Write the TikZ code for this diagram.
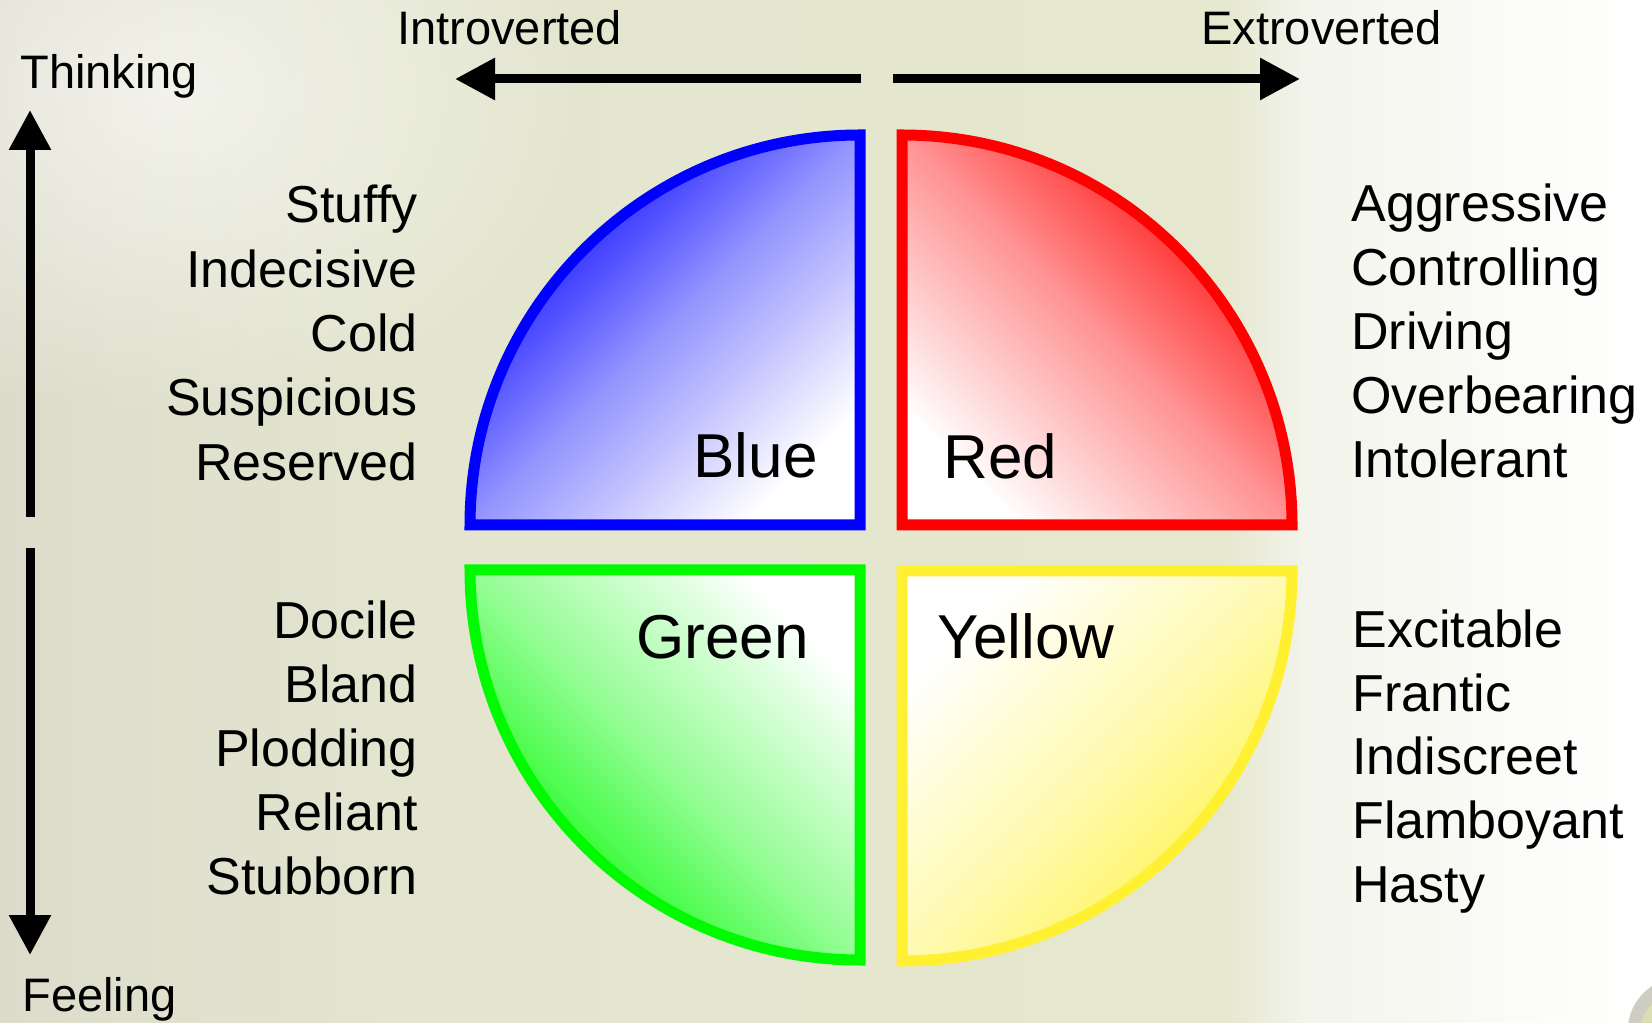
\documentclass[tikz,border=0pt]{standalone}
\usepackage{fontspec}
\setmainfont{Liberation Sans}
\usetikzlibrary{arrows.meta, fadings}

\definecolor{bgA}{RGB}{221,220,204}
\definecolor{bgB}{RGB}{227,229,207}
\definecolor{bgC}{RGB}{229,231,206}
\definecolor{bgD}{RGB}{243,244,235}
\definecolor{bgE}{RGB}{250,250,246}
\definecolor{blueline}{RGB}{0,0,255}
\definecolor{redline}{RGB}{255,0,0}
\definecolor{greenline}{RGB}{0,250,0}
\definecolor{yellowline}{RGB}{255,240,50}
\definecolor{yellowfill}{RGB}{255,243,70}
\definecolor{iconrim}{RGB}{205,205,195}
\definecolor{iconface}{RGB}{218,222,178}

\pgfdeclarehorizontalshading{bgwash}{100bp}{color(0bp)=(bgA); color(25bp)=(bgA); color(37bp)=(bgB); color(62bp)=(bgC); color(64.5bp)=(bgD); color(70bp)=(bgE); color(75bp)=(white); color(100bp)=(white)}
\tikzfading[name=softspot, inner color=transparent!0, outer color=transparent!100]

\begin{document}
\begin{tikzpicture}[
        x=0.5pt, y=0.5pt,
        quarter/.style = {line width=5.5pt, line join=miter},
        trait/.style = {inner sep=0pt, font=\fontsize{26pt}{32pt}\selectfont},
        colour/.style = {inner sep=0pt, font=\fontsize{31pt}{37pt}\selectfont},
        axislabel/.style = {inner sep=0pt, anchor=base west, font=\fontsize{23.5pt}{28pt}\selectfont},
        axis/.style = {-{Triangle[length=20pt, width=20pt]}, line width=4.5pt},
    ]
    \useasboundingbox (0,0) rectangle (1652,1022);
    \shade[shading=bgwash] (0,0) rectangle (1652,1022);
    \fill[white, opacity=0.6, path fading=softspot] (170,930) ellipse (420 and 330);
    % slide button in the corner
    \fill[iconrim] (1680,-8) circle (52);
    \fill[iconface] (1684,-12) circle (44);

    % the four quarters
    \path[quarter, draw=blueline, top color=blue, bottom color=white, middle color=blue!42, shading angle=45]
        (860,497) -- (470,497) arc[start angle=180, end angle=90, radius=390] -- cycle;
    \path[quarter, draw=redline, top color=red, bottom color=white, middle color=red!42, shading angle=-45]
        (902,497) -- (902,887) arc[start angle=90, end angle=0, radius=390] -- cycle;
    \path[quarter, draw=greenline, top color=white, bottom color=greenline, middle color=greenline!42, shading angle=-45]
        (860,452) -- (860,62) arc[start angle=270, end angle=180, radius=390] -- cycle;
    \path[quarter, draw=yellowline, top color=white, bottom color=yellowfill, middle color=yellowfill!42, shading angle=45]
        (902,451) -- (1292,451) arc[start angle=0, end angle=-90, radius=390] -- cycle;

    \node[colour, anchor=base east] (blue) at (818,544) {Blue};
    \node[colour, anchor=base west] (red) at (943,543) {Red};
    \node[colour, anchor=base east] (green) at (809,363) {Green};
    \node[colour, anchor=base west] (yellow) at (937,363) {Yellow};

    % traits
    \foreach \word [count=\i from 0] in {Stuffy, Indecisive, Cold, Suspicious, Reserved}
        \node[trait, anchor=base east] (bluetrait-\i) at (418,{799-64.3*\i}) {\word};
    \foreach \word [count=\i from 0] in {Docile, Bland, Plodding, Reliant, Stubborn}
        \node[trait, anchor=base east] (greentrait-\i) at (418,{383-63.8*\i}) {\word};
    \foreach \word [count=\i from 0] in {Aggressive, Controlling, Driving, Overbearing, Intolerant}
        \node[trait, anchor=base west] (redtrait-\i) at (1351,{800-63.8*\i}) {\word};
    \foreach \word [count=\i from 0] in {Excitable, Frantic, Indiscreet, Flamboyant, Hasty}
        \node[trait, anchor=base west] (yellowtrait-\i) at (1352,{374-63.5*\i}) {\word};

    % axes
    \node[axislabel] (thinking) at (20,933) {Thinking};
    \node[axislabel] (feeling) at (22,11) {Feeling};
    \node[axislabel] (introverted) at (397,977) {Introverted};
    \node[axislabel] (extroverted) at (1201,977) {Extroverted};
    \coordinate (hub-w) at (861,943);
    \coordinate (hub-e) at (893,943);
    \coordinate (intro-tip) at (455,943);
    \coordinate (extro-tip) at (1300,943);
    \coordinate (hub-n) at (30,505);
    \coordinate (hub-s) at (30,474);
    \coordinate (think-tip) at (30,912);
    \coordinate (feel-tip) at (30,67);
    \draw[axis] (hub-w) -- (intro-tip);
    \draw[axis] (hub-e) -- (extro-tip);
    \draw[axis] (hub-n) -- (think-tip);
    \draw[axis] (hub-s) -- (feel-tip);
\end{tikzpicture}
\end{document}
